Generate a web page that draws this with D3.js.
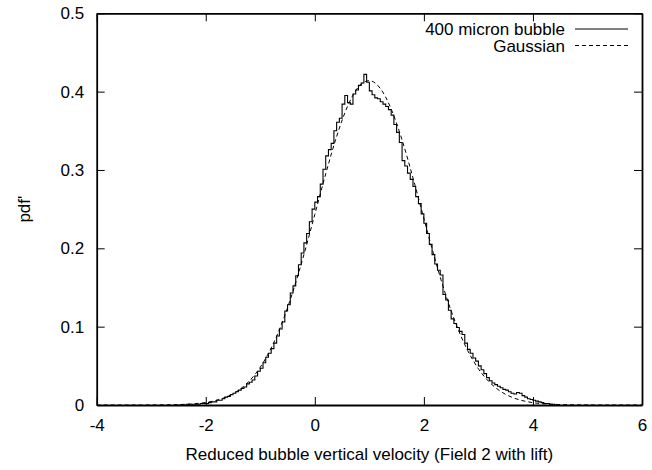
<meta charset="utf-8" />
<style>
	body { margin: 0; }
	svg { display: block; }
</style>
<svg width="652" height="470"></svg>
<script src="https://cdn.jsdelivr.net/npm/d3@7/dist/d3.min.js"></script>
<script>
	// histogram of the 400 micron bubble, bins of 0.05 starting at -2.5
	var binStart = -2.5,
		binWidth = 0.05;
	var histValues = [
		0.000, 0.000, 0.000, 0.001, 0.000, 0.001, 0.001, 0.001, 0.002, 0.002,
		0.002, 0.003, 0.004, 0.004, 0.006, 0.006, 0.008, 0.010, 0.011, 0.013,
		0.015, 0.017, 0.019, 0.021, 0.023, 0.027, 0.029, 0.032, 0.037, 0.043,
		0.047, 0.054, 0.061, 0.066, 0.072, 0.079, 0.088, 0.097, 0.106, 0.120,
		0.128, 0.143, 0.152, 0.165, 0.179, 0.194, 0.207, 0.219, 0.234, 0.250,
		0.259, 0.266, 0.282, 0.301, 0.318, 0.326, 0.334, 0.350, 0.361, 0.366,
		0.384, 0.395, 0.386, 0.384, 0.397, 0.402, 0.408, 0.411, 0.422, 0.412,
		0.401, 0.396, 0.392, 0.391, 0.387, 0.384, 0.381, 0.377, 0.370, 0.358,
		0.348, 0.335, 0.312, 0.305, 0.296, 0.288, 0.279, 0.266, 0.257, 0.244,
		0.232, 0.219, 0.205, 0.192, 0.180, 0.172, 0.166, 0.141, 0.134, 0.121,
		0.110, 0.104, 0.099, 0.094, 0.090, 0.079, 0.071, 0.066, 0.060, 0.056,
		0.050, 0.045, 0.040, 0.035, 0.031, 0.028, 0.026, 0.024, 0.022, 0.020,
		0.019, 0.017, 0.015, 0.014, 0.016, 0.015, 0.012, 0.010, 0.008, 0.007,
		0.006, 0.005, 0.004, 0.003, 0.002, 0.002, 0.001, 0.001, 0.000, 0.000
	];

	// gaussian fit, sampled every 0.2 from -4 to 6
	var gaussX = d3.range(51).map(i => -4 + i * 0.2);
	var gaussY = [
		0, 0, 0, 0, 0, 0.0001, 0.0002, 0.0004, 0.0008, 0.0017,
		0.0032, 0.0061, 0.0109, 0.0187, 0.0307, 0.0483, 0.0728, 0.1050, 0.1452, 0.1920,
		0.2433, 0.2951, 0.3428, 0.3812, 0.4060, 0.4140, 0.4042, 0.3779, 0.3383, 0.2900,
		0.2381, 0.1871, 0.1408, 0.1015, 0.0700, 0.0462, 0.0293, 0.0177, 0.0103, 0.0057,
		0.0030, 0.0015, 0.0008, 0.0004, 0.0002, 0.0001, 0, 0, 0, 0, 0
	];

	var xTicks = [-4, -2, 0, 2, 4, 6];
	var xTickLabels = ['-4', '-2', '0', '2', '4', '6'];
	var yTicks = [0, 0.1, 0.2, 0.3, 0.4, 0.5];
	var yTickLabels = ['0', '0.1', '0.2', '0.3', '0.4', '0.5'];
	var legendLabels = ['400 micron bubble', 'Gaussian'];

	var svg = d3.select('svg'),
		font = 'Liberation Sans, Arial, Helvetica, sans-serif',
		fontSize = '17px',
		margin = { left: 96.7, right: 10, top: 13.3, bottom: 65 },
		width = +svg.attr('width'),
		height = +svg.attr('height'),
		w = width - margin.left - margin.right,
		h = height - margin.top - margin.bottom;

	svg.append('rect').attr('width', width).attr('height', height).attr('fill', '#fff');

	var g = svg
		.append('g')
		.attr('transform', 'translate(' + margin.left + ',' + margin.top + ')');

	var x = d3.scaleLinear().domain([-4, 6]).range([0, w]);
	var y = d3.scaleLinear().domain([0, 0.5]).range([h, 0]);

	// curves
	var histPts = histValues.map((v, i) => [binStart + i * binWidth, v]);
	histPts.push([binStart + histValues.length * binWidth, histValues[histValues.length - 1]]);

	var histLine = d3
		.line()
		.x(d => x(d[0]))
		.y(d => y(d[1]))
		.curve(d3.curveStepAfter);

	g.append('path')
		.datum(histPts)
		.attr('fill', 'none')
		.attr('stroke', '#000')
		.attr('stroke-width', 1.1)
		.attr('d', histLine);

	var gaussLine = d3
		.line()
		.x((d, i) => x(gaussX[i]))
		.y(d => y(d))
		.curve(d3.curveMonotoneX);

	g.append('path')
		.datum(gaussY)
		.attr('fill', 'none')
		.attr('stroke', '#000')
		.attr('stroke-width', 1)
		.attr('stroke-dasharray', '4,3')
		.attr('d', gaussLine);

	// axes with inward ticks on all four sides
	var tick = 8;
	function style(sel) {
		sel.selectAll('.domain').attr('stroke', '#000').attr('stroke-width', 1.8);
		sel.selectAll('.tick line').attr('stroke', '#000').attr('stroke-width', 1);
		sel.selectAll('text').attr('fill', '#000').style('font-family', font).style('font-size', fontSize);
	}

	g.append('g')
		.attr('transform', 'translate(0,' + h + ')')
		.call(d3.axisBottom(x).tickValues(xTicks).tickSizeInner(-tick).tickSizeOuter(0).tickPadding(14).tickFormat((d, i) => xTickLabels[i]))
		.call(style);
	g.append('g')
		.call(d3.axisTop(x).tickValues(xTicks).tickSizeInner(-tick).tickSizeOuter(0).tickFormat(''))
		.call(style);
	g.append('g')
		.call(d3.axisLeft(y).tickValues(yTicks).tickSizeInner(-tick).tickSizeOuter(0).tickPadding(12.5).tickFormat((d, i) => yTickLabels[i]))
		.call(style);
	g.append('g')
		.attr('transform', 'translate(' + w + ',0)')
		.call(d3.axisRight(y).tickValues(yTicks).tickSizeInner(-tick).tickSizeOuter(0).tickFormat(''))
		.call(style);

	// axis titles
	svg.append('text')
		.attr('x', margin.left + w / 2)
		.attr('y', 460)
		.attr('text-anchor', 'middle')
		.style('font-family', font)
		.style('font-size', fontSize)
		.text('Reduced bubble vertical velocity (Field 2 with lift)');

	svg.append('text')
		.attr('transform', 'translate(30,' + (margin.top + h / 2) + ') rotate(-90)')
		.attr('text-anchor', 'middle')
		.style('font-family', font)
		.style('font-size', fontSize)
		.text("pdf'");

	// legend
	var legend = svg
		.selectAll('.legend')
		.data(legendLabels)
		.enter()
		.append('g')
		.attr('class', 'legend')
		.attr('transform', (d, i) => 'translate(0,' + (29 + i * 16.5) + ')');

	legend
		.append('text')
		.attr('x', 565)
		.attr('y', 6)
		.attr('text-anchor', 'end')
		.style('font-family', font)
		.style('font-size', fontSize)
		.text(d => d);

	legend
		.append('line')
		.attr('x1', 575)
		.attr('x2', 628)
		.attr('stroke', '#000')
		.attr('stroke-width', 1)
		.attr('stroke-dasharray', (d, i) => (i ? '4,3' : null));
</script>
